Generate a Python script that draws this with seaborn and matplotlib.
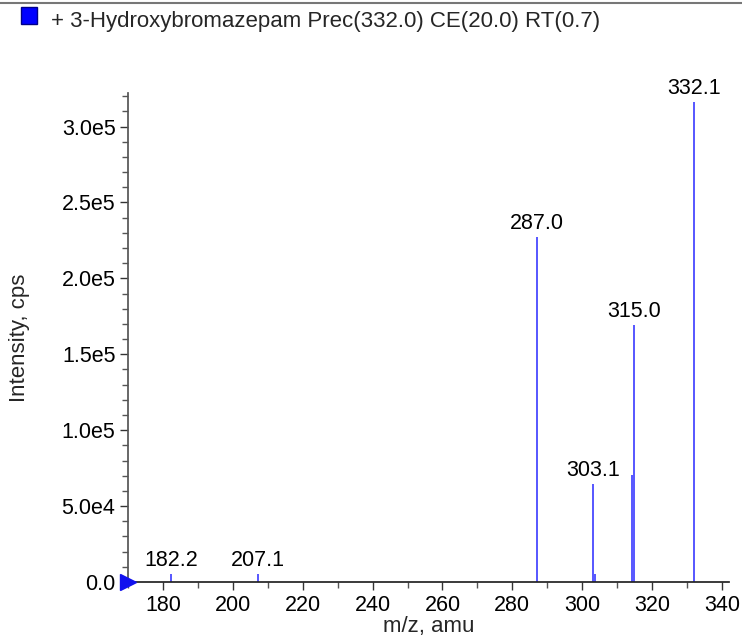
import numpy as np
import pandas as pd
import seaborn as sns
import matplotlib.pyplot as plt
import matplotlib.ticker as ticker
from matplotlib.lines import Line2D

# picos do espectro (m/z, intensidade)
mz = [182.4, 207.1, 287.05, 303.05, 303.6, 314.1, 314.9, 332.1]
intensidade = [5000, 5000, 227000, 64500, 5300, 70500, 169000, 316000]
rotulos = ['182.2', '207.1', '287.0', '303.1', '', '', '315.0', '332.1']

titulo = '+ 3-Hydroxybromazepam Prec(332.0) CE(20.0) RT(0.7)'

picos = pd.DataFrame({'mz': mz, 'intensidade': intensidade, 'rotulo': rotulos})

sns.set_theme(style='ticks')
plt.rcParams['font.family'] = ['Liberation Sans', 'DejaVu Sans']

fig = plt.figure(figsize=(7.42, 6.39), dpi=100)
ax = fig.add_axes([0.1725, 0.0892, 0.81, 0.765])

ax.vlines(picos['mz'], 0, picos['intensidade'], color='#3a3aff', linewidth=1.2)
for _, p in picos.iterrows():
    if p['rotulo']:
        ax.text(p['mz'], p['intensidade'] + 2000, p['rotulo'], ha='center', va='bottom',
                fontsize=15.5, color='black')

ax.plot([170], [0], marker='>', color='#1010ee', markersize=12, clip_on=False, zorder=5)

ax.set_xlim(170, 342)
ax.set_ylim(0, 322000)
ax.xaxis.set_major_locator(ticker.MultipleLocator(20))
ax.xaxis.set_minor_locator(ticker.MultipleLocator(10))
ax.yaxis.set_major_locator(ticker.MultipleLocator(50000))
ax.yaxis.set_minor_locator(ticker.MultipleLocator(10000))
ax.yaxis.set_major_formatter(ticker.FuncFormatter(lambda v, pos: '0.0' if v == 0 else f'{v:.1e}'.replace('e+0', 'e')))

ax.tick_params(axis='both', which='major', length=6, width=1, labelsize=15.5, colors='#333333',
               labelcolor='black', pad=3)
ax.tick_params(axis='both', which='minor', length=4, width=1, colors='#555555')
sns.despine(ax=ax)
ax.spines['left'].set_color('#555555')
ax.spines['bottom'].set_color('#222222')

ax.set_xlabel('m/z, amu', fontsize=16, labelpad=0)
ax.yaxis.set_label_coords(-(128 - 20) / (0.81 * 742), 0.5)
ax.set_ylabel('Intensity, cps', fontsize=16, va='center')

# cabeçalho
fig.add_artist(Line2D([0, 1], [1 - 3 / 639, 1 - 3 / 639], color='#777777', linewidth=1.5))
fig.patches.append(plt.Rectangle((21 / 742, 1 - 24 / 639), 16 / 742, 17 / 639,
                                 transform=fig.transFigure, facecolor='#0000ff', edgecolor='#000088'))
fig.text(51 / 742, 1 - 21 / 639, titulo, fontsize=16, va='center', ha='left')

plt.savefig('out.png', dpi=100)
